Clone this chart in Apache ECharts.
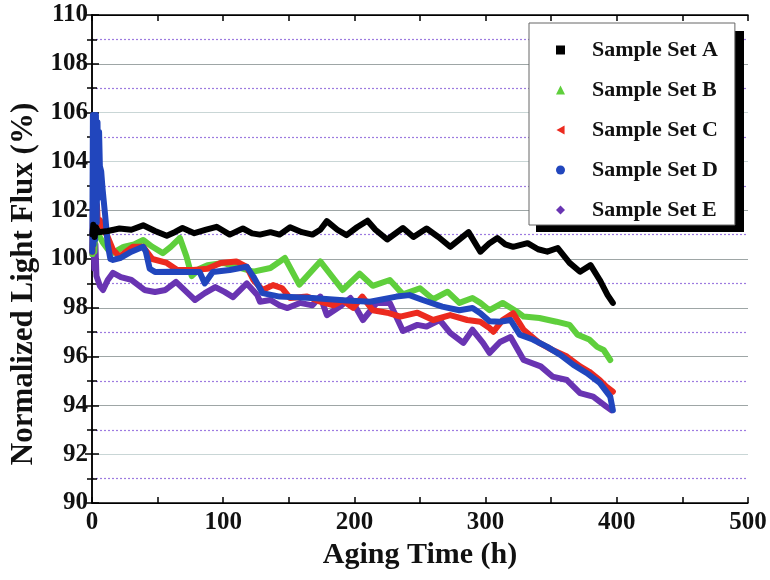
<!DOCTYPE html>
<html>
<head>
<meta charset="utf-8">
<title>Normalized Light Flux vs Aging Time</title>
<script src="https://cdn.jsdelivr.net/npm/echarts@6/dist/echarts.min.js"></script>
<style>
  html, body { margin: 0; padding: 0; background: #fff; }
  #chart { width: 770px; height: 580px; }
</style>
</head>
<body>
<div id="chart"></div>
<script>
// Aging time (h) vs normalized light flux (%) for five sample sets
const seriesNames = ['Sample Set A', 'Sample Set B', 'Sample Set C', 'Sample Set D', 'Sample Set E'];

const setA = [[0.3,101.0],[1,101.4],[2,100.9],[3,101.3],[5,101.1],[12,101.15],[21,101.25],[30,101.2],[39,101.38],[48,101.15],[57,100.95],[63,101.1],[69,101.27],[78,101.06],[87,101.2],[95,101.32],[105,101.0],[115,101.25],[122,101.05],[128,101.0],[136,101.1],[143,101.0],[151,101.3],[160,101.1],[168,101.0],[174,101.2],[179,101.55],[187,101.2],[194,100.98],[202,101.3],[210,101.57],[216,101.2],[225,100.8],[237,101.27],[245,100.9],[255,101.25],[264,100.9],[273,100.5],[287,101.1],[296,100.3],[303,100.65],[309,100.86],[315,100.6],[321,100.5],[332,100.65],[340,100.4],[347,100.3],[355,100.45],[364,99.84],[372,99.48],[380,99.75],[387,99.14],[393,98.52],[397,98.2]];

const setB = [[0.3,100.2],[1,101.0],[1.8,100.3],[2.6,101.5],[3.4,100.9],[5,101.0],[8,100.7],[12,100.4],[16,100.25],[24,100.5],[32,100.6],[39,100.78],[46,100.5],[54,100.24],[60,100.5],[67,100.86],[72,100.1],[76,99.3],[82,99.6],[88,99.75],[100,99.84],[110,99.68],[123,99.48],[136,99.63],[147,100.04],[158,98.95],[174,99.9],[191,98.73],[204,99.4],[214,98.9],[227,99.14],[237,98.55],[250,98.8],[260,98.35],[271,98.66],[280,98.2],[290,98.4],[296,98.2],[303,97.9],[313,98.2],[324,97.84],[329,97.64],[341,97.58],[354,97.43],[364,97.3],[370,96.9],[379,96.7],[385,96.4],[390,96.27],[395,95.86]];

const setC = [[0.3,100.3],[1,102.8],[1.7,100.8],[2.4,102.6],[3.1,101.2],[3.8,102.2],[4.5,101.4],[6,101.6],[8,101.3],[10,101.1],[12,100.9],[16,100.37],[21,100.1],[26,100.3],[31,100.5],[39,100.5],[46,100.0],[57,99.84],[65,99.55],[77,99.55],[88,99.6],[98,99.84],[110,99.9],[118,99.68],[123,99.14],[130,98.73],[138,98.93],[145,98.8],[151,98.4],[164,98.46],[174,98.25],[184,98.1],[191,98.3],[199,98.0],[206,98.46],[214,97.9],[225,97.8],[235,97.64],[248,97.8],[260,97.5],[273,97.7],[286,97.5],[296,97.43],[303,97.17],[306,97.02],[313,97.5],[321,97.78],[329,97.1],[341,96.56],[351,96.27],[362,96.0],[372,95.6],[379,95.38],[387,95.04],[392,94.77],[397,94.56]];

const setD = [[0.2,100.3],[0.7,105.9],[1.2,100.6],[1.8,105.8],[2.4,100.8],[3,105.9],[3.6,101.5],[4.2,105.6],[4.8,102.5],[5.4,105.2],[6,103.8],[7,103.6],[8,102.9],[10,101.8],[12,100.6],[14,100.0],[16,99.96],[22,100.05],[30,100.3],[39,100.5],[41,100.3],[44,99.6],[48,99.47],[60,99.48],[73,99.47],[82,99.47],[86,99.0],[92,99.47],[105,99.55],[118,99.68],[123,99.28],[130,98.6],[143,98.46],[168,98.4],[194,98.3],[212,98.25],[232,98.46],[242,98.52],[252,98.32],[267,98.05],[280,97.9],[290,97.99],[296,97.78],[303,97.45],[311,97.43],[319,97.5],[326,96.9],[336,96.7],[347,96.4],[357,96.07],[367,95.66],[377,95.33],[387,94.92],[395,94.36],[397,93.8]];

const setE = [[0.3,100.2],[1,101.0],[1.8,99.6],[2.6,100.6],[3.4,99.3],[4.6,99.26],[6,98.9],[8.4,98.73],[12,99.14],[16,99.43],[22,99.26],[30,99.14],[40,98.73],[48,98.65],[56,98.73],[64,99.06],[73,98.6],[78.5,98.32],[86,98.6],[94,98.85],[101,98.65],[107.5,98.44],[118,99.0],[126,98.52],[128,98.25],[136,98.32],[143,98.1],[149,97.99],[158.5,98.2],[168,98.1],[174,98.46],[179,97.7],[189,98.05],[197,98.4],[206.5,97.5],[217,98.2],[227,98.2],[237,97.05],[248,97.3],[255,97.23],[265,97.5],[273,96.97],[283,96.56],[290,97.1],[298,96.56],[303,96.15],[311,96.6],[319,96.8],[329,95.86],[342,95.6],[351,95.18],[362,95.04],[372,94.5],[382,94.36],[392,93.95],[396,93.8]];

const xTicks = { min: 0, max: 500, interval: 100 };
const yTicks = { min: 90, max: 110, interval: 2 };

const colors = ['#000000', '#5fcf3c', '#ec2a1f', '#2146bd', '#6934b2'];
const icons = ['rect', 'triangle', 'path://M0,5L9,0L9,10Z', 'circle', 'diamond'];
const datasets = [setA, setB, setC, setD, setE];
// drawing order: purple at the back, black on top
const drawOrder = [4, 1, 2, 3, 0];

const serif = '"Liberation Serif", "Times New Roman", serif';
const tickLabel = { fontFamily: serif, fontWeight: 'bold', fontSize: 25, color: '#111' };

const chart = echarts.init(document.getElementById('chart'), null, { renderer: 'canvas' });

const baseX = {
  type: 'value', min: xTicks.min, max: xTicks.max, interval: xTicks.interval,
  axisLine: { show: true, lineStyle: { color: '#000', width: 1.5 } },
  axisTick: { show: true, inside: true, length: 6, lineStyle: { color: '#000', width: 1.5 } },
  minorTick: { show: true, splitNumber: 2, length: 6, lineStyle: { color: '#000', width: 1.5 } },
  splitLine: { show: false }
};
const baseY = {
  type: 'value', min: yTicks.min, max: yTicks.max, interval: yTicks.interval,
  axisLine: { show: true, lineStyle: { color: '#000', width: 1.5 } },
  axisTick: { show: true, inside: true, length: 7, lineStyle: { color: '#000', width: 1.5 } },
  minorTick: { show: true, splitNumber: 2, length: 5, lineStyle: { color: '#000', width: 1.5 } }
};

const series = drawOrder.map(i => ({
  name: seriesNames[i],
  type: 'line',
  data: datasets[i],
  symbol: 'none',
  smooth: false,
  lineStyle: { color: colors[i], width: 6, cap: 'round', join: 'round' },
  itemStyle: { color: colors[i] },
  z: 3,
  silent: true,
  animation: false
}));

chart.setOption({
  animation: false,
  backgroundColor: '#fff',
  grid: { left: 92, right: 22, top: 15, bottom: 77, show: false },
  xAxis: [
    Object.assign({}, baseX, {
      position: 'bottom',
      name: 'Aging Time (h)',
      nameLocation: 'middle',
      nameGap: 37,
      nameTextStyle: { fontFamily: serif, fontWeight: 'bold', fontSize: 30, color: '#111', verticalAlign: 'top' },
      axisLabel: Object.assign({ margin: 7 }, tickLabel)
    }),
    Object.assign({}, baseX, { position: 'top', axisLabel: { show: false } })
  ],
  yAxis: [
    Object.assign({}, baseY, {
      position: 'left',
      name: 'Normalized Light Flux (%)',
      nameLocation: 'middle',
      nameGap: 49,
      nameTextStyle: { fontFamily: serif, fontWeight: 'bold', fontSize: 31, color: '#111', padding: [0, 50, 0, 0] },
      axisLabel: Object.assign({ margin: 4 }, tickLabel),
      splitLine: {
        show: true,
        lineStyle: { color: ['#000', '#c9d6d6', '#9ea6a6', '#9ea6a6', '#9ea6a6', '#9ea6a6', '#9ea6a6', '#c9d6d6', '#c9d6d6', '#9ea6a6', '#000'], width: 1.2 }
      },
      minorSplitLine: {
        show: true,
        lineStyle: { color: '#9d7be0', width: 1.2, type: [2, 2] }
      }
    }),
    Object.assign({}, baseY, { position: 'right', axisLabel: { show: false }, splitLine: { show: false } })
  ],
  // solid drop shadow behind the legend frame
  graphic: [{
    type: 'rect',
    left: 536, top: 31,
    shape: { width: 208, height: 201 },
    style: { fill: '#000' },
    z: 9, silent: true
  }],
  legend: {
    orient: 'vertical',
    left: 529,
    top: 23,
    padding: [16, 17, 4, 27],
    itemGap: 18,
    itemWidth: 9,
    itemHeight: 9,
    backgroundColor: '#fff',
    borderColor: '#666',
    borderWidth: 1,
    textStyle: { fontFamily: serif, fontWeight: 'bold', fontSize: 22, lineHeight: 22, color: '#111', padding: [0, 0, 0, 22] },
    data: seriesNames.map((n, i) => ({ name: n, icon: icons[i], itemStyle: { color: colors[i] } })),
    selectedMode: false,
    z: 10
  },
  series: series
});
</script>
</body>
</html>
